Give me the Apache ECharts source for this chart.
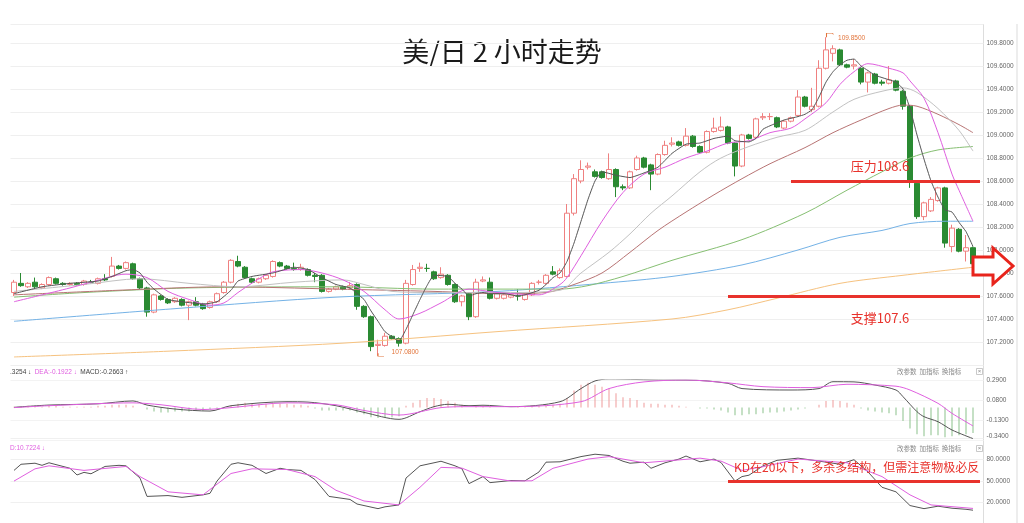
<!DOCTYPE html>
<html><head><meta charset="utf-8">
<script src="https://cdn.jsdelivr.net/npm/echarts@6/dist/echarts.min.js"></script>
<style>html,body{margin:0;padding:0;background:#fff}#c{width:1024px;height:523px}</style>
</head><body><div id="c"></div>
<script>
// ---- candle data (USD/JPY, 2-hour) ----
const opens=[107.63,107.71,107.68,107.72,107.67,107.70,107.75,107.71,107.70,107.71,
107.70,107.72,107.71,107.75,107.77,107.86,107.84,107.88,107.75,107.67,
107.46,107.60,107.57,107.55,107.57,107.52,107.55,107.53,107.50,107.55,
107.63,107.72,107.90,107.85,107.75,107.72,107.75,107.77,107.89,107.86,
107.84,107.83,107.83,107.78,107.78,107.64,107.66,107.68,107.67,107.70,
107.51,107.42,107.17,107.17,107.25,107.23,107.19,107.70,107.84,107.84,
107.81,107.76,107.78,107.70,107.55,107.62,107.42,107.73,107.72,107.58,
107.58,107.59,107.60,107.57,107.61,107.72,107.71,107.81,107.76,107.77,
108.32,108.60,108.72,108.68,108.68,108.62,108.70,108.55,108.54,108.70,
108.80,108.74,108.66,108.83,108.92,108.94,108.91,108.99,108.90,108.85,
109.03,109.04,109.07,108.93,108.73,109.00,108.98,109.15,109.16,109.15,
109.06,109.12,109.17,109.33,109.22,109.25,109.58,109.71,109.74,109.61,
109.60,109.58,109.46,109.53,109.46,109.45,109.47,109.38,109.25,108.58,
108.29,108.34,108.43,108.54,108.03,108.18,107.99,108.02];
const closes=[107.72,107.69,107.71,107.68,107.70,107.76,107.71,107.70,107.71,107.70,
107.73,107.72,107.75,107.74,107.86,107.84,107.89,107.75,107.67,107.46,
107.61,107.57,107.54,107.58,107.52,107.55,107.52,107.49,107.55,107.62,
107.72,107.91,107.86,107.76,107.72,107.75,107.78,107.90,107.86,107.84,
107.83,107.85,107.78,107.77,107.64,107.66,107.68,107.66,107.69,107.51,
107.42,107.16,107.18,107.25,107.23,107.19,107.71,107.83,107.85,107.84,
107.75,107.79,107.70,107.55,107.60,107.42,107.72,107.74,107.58,107.62,
107.61,107.61,107.60,107.61,107.71,107.72,107.78,107.79,107.82,108.32,
108.62,108.70,108.73,108.64,108.63,108.70,108.55,108.54,108.68,108.80,
108.72,108.66,108.83,108.91,108.93,108.91,108.99,108.90,108.85,109.03,
109.06,109.07,108.93,108.73,109.00,108.97,109.14,109.16,109.16,109.07,
109.12,109.15,109.33,109.25,109.25,109.58,109.74,109.75,109.61,109.59,
109.61,109.46,109.54,109.45,109.45,109.48,109.39,109.25,108.60,108.29,
108.41,108.44,108.54,108.06,108.19,107.99,108.02,107.88];
const lows=[107.60,107.68,107.67,107.67,107.66,107.69,107.70,107.69,107.69,107.69,
107.69,107.71,107.70,107.73,107.76,107.83,107.83,107.74,107.66,107.42,
107.45,107.56,107.53,107.54,107.51,107.39,107.51,107.48,107.49,107.54,
107.62,107.71,107.85,107.75,107.71,107.71,107.74,107.76,107.85,107.83,
107.82,107.82,107.77,107.72,107.63,107.63,107.65,107.65,107.66,107.48,
107.41,107.12,107.08,107.16,107.22,107.16,107.18,107.69,107.81,107.81,
107.74,107.75,107.69,107.54,107.51,107.39,107.41,107.72,107.57,107.57,
107.57,107.58,107.56,107.56,107.60,107.70,107.70,107.78,107.75,107.76,
108.30,108.58,108.70,108.63,108.62,108.61,108.46,108.52,108.53,108.69,
108.71,108.52,108.65,108.82,108.90,108.90,108.90,108.89,108.84,108.84,
109.02,109.03,108.92,108.64,108.72,108.96,108.97,109.13,109.13,109.06,
109.05,109.11,109.16,109.24,109.20,109.24,109.57,109.64,109.60,109.58,
109.57,109.44,109.37,109.44,109.43,109.44,109.38,109.22,108.54,108.27,
108.26,108.33,108.42,108.02,107.98,107.98,107.90,107.86];
const highs=[107.74,107.80,107.72,107.76,107.71,107.77,107.76,107.72,107.72,107.72,
107.74,107.74,107.76,107.79,107.94,107.87,107.90,107.89,107.76,107.68,
107.62,107.61,107.58,107.59,107.58,107.56,107.59,107.54,107.56,107.63,
107.73,107.92,107.95,107.86,107.76,107.76,107.79,107.91,107.90,107.87,
107.89,107.88,107.84,107.80,107.79,107.67,107.69,107.69,107.72,107.71,
107.52,107.43,107.22,107.28,107.26,107.24,107.74,107.87,107.89,107.88,
107.82,107.85,107.79,107.71,107.61,107.63,107.75,107.77,107.76,107.63,
107.62,107.62,107.66,107.62,107.72,107.74,107.79,107.86,107.84,108.40,
108.66,108.78,108.76,108.70,108.69,108.84,108.71,108.57,108.69,108.82,
108.81,108.75,108.84,108.95,108.98,108.95,109.06,109.00,108.91,109.04,
109.15,109.16,109.08,108.94,109.01,109.01,109.15,109.19,109.19,109.16,
109.13,109.16,109.39,109.34,109.41,109.65,109.85,109.78,109.75,109.62,
109.66,109.59,109.55,109.54,109.48,109.60,109.48,109.39,109.26,108.59,
108.42,108.46,108.55,108.55,108.22,108.19,108.13,108.03];

// ---- moving averages: [candle index, value] ----
const ma5=[[0,107.62],[4,107.68],[8,107.71],[12,107.73],[14,107.77],[16,107.82],[17,107.83],[18,107.80],[19,107.72],[20,107.66],[22,107.57],[24,107.55],[27,107.53],[29,107.55],[31,107.65],[32,107.73],[34,107.77],[37,107.80],[40,107.85],[42,107.83],[44,107.76],[46,107.70],[48,107.67],[49,107.62],[50,107.57],[51,107.47],[52,107.38],[53,107.29],[55,107.21],[56,107.31],[57,107.44],[58,107.57],[59,107.69],[60,107.78],[62,107.77],[63,107.71],[64,107.66],[65,107.60],[66,107.62],[67,107.63],[68,107.62],[70,107.62],[72,107.60],[73,107.61],[75,107.65],[76,107.70],[77,107.76],[78,107.80],[79,107.90],[80,108.06],[81,108.25],[82,108.44],[83,108.60],[84,108.68],[86,108.65],[88,108.63],[90,108.67],[92,108.72],[94,108.84],[96,108.92],[98,108.93],[100,108.97],[102,108.99],[103,108.95],[105,108.94],[106,108.97],[107,109.05],[108,109.08],[110,109.13],[112,109.16],[113,109.18],[114,109.22],[115,109.33],[116,109.46],[117,109.55],[118,109.61],[119,109.65],[120,109.66],[121,109.60],[122,109.56],[123,109.52],[125,109.48],[126,109.46],[127,109.40],[128,109.23],[129,109.00],[130,108.79],[131,108.60],[132,108.46],[133,108.35],[134,108.33],[135,108.24],[136,108.16],[137,108.03]];
const ma10=[[0,107.55],[8,107.67],[11,107.72],[16,107.79],[19,107.76],[22,107.64],[25,107.57],[28,107.52],[30,107.54],[32,107.63],[35,107.75],[37,107.81],[41,107.83],[44,107.80],[47,107.74],[50,107.64],[53,107.48],[55,107.40],[58,107.45],[61,107.54],[65,107.66],[69,107.63],[75,107.61],[78,107.70],[79,107.76],[81,107.95],[84,108.25],[87,108.50],[90,108.66],[93,108.72],[96,108.80],[99,108.86],[102,108.93],[105,108.95],[108,109.02],[111,109.06],[113,109.14],[116,109.28],[118,109.44],[120,109.55],[122,109.62],[125,109.58],[127,109.54],[128,109.47],[130,109.32],[132,109.02],[134,108.66],[135,108.52],[137,108.25]];
const ma20=[[0,107.64],[10,107.70],[18,107.75],[25,107.71],[32,107.68],[40,107.72],[47,107.74],[50,107.70],[54,107.64],[60,107.63],[70,107.63],[78,107.65],[81,107.80],[85,107.98],[88,108.14],[91,108.32],[94,108.47],[98,108.68],[101,108.80],[105,108.90],[109,108.98],[113,109.04],[117,109.20],[120,109.31],[124,109.38],[127,109.41],[129,109.37],[132,109.23],[135,109.04],[137,108.86]];
const ma30=[[0,107.61],[15,107.65],[30,107.68],[46,107.66],[60,107.64],[70,107.62],[76,107.63],[80,107.70],[84,107.80],[88,107.98],[92,108.17],[96,108.33],[100,108.48],[104,108.62],[108,108.75],[113,108.89],[117,109.02],[121,109.13],[125,109.23],[127,109.26],[129,109.25],[132,109.18],[135,109.09],[137,109.02]];
const ma60=[[0,107.59],[10,107.63],[25,107.67],[46,107.68],[60,107.66],[78,107.66],[82,107.69],[87,107.77],[94,107.91],[104,108.09],[113,108.32],[119,108.52],[124,108.68],[128,108.80],[132,108.87],[137,108.90]];
const ma120=[[0,107.38],[23,107.49],[46,107.59],[69,107.64],[84,107.71],[94,107.77],[104,107.87],[112,108.00],[118,108.11],[124,108.17],[128,108.23],[133,108.25],[137,108.25]];
const ma250=[[0,107.07],[22,107.12],[47,107.19],[69,107.29],[94,107.40],[102,107.48],[109,107.58],[118,107.71],[127,107.78],[137,107.85]];

// ---- MACD ----
const macdHist=[0.01,0.01,0.02,0.01,0.01,0.02,0.02,0.01,0.01,0.01,
0.01,0.01,0.02,0.02,0.03,0.03,0.03,0.02,0.0,-0.02,
-0.04,-0.05,-0.05,-0.04,-0.04,-0.04,-0.03,-0.03,-0.02,-0.01,
0.0,0.02,0.04,0.05,0.04,0.04,0.04,0.05,0.04,0.04,
0.03,0.03,0.02,-0.01,-0.03,-0.03,-0.03,-0.03,-0.03,-0.05,
-0.07,-0.10,-0.11,-0.10,-0.10,-0.09,0.02,0.05,0.08,0.10,
0.10,0.09,0.07,0.05,0.03,0.0,0.02,0.02,0.01,0.0,
0.0,0.0,0.01,0.01,0.02,0.02,0.02,0.03,0.04,0.10,
0.18,0.24,0.26,0.24,0.22,0.20,0.15,0.11,0.10,0.08,
0.05,0.04,0.04,0.03,0.03,0.02,0.01,0.0,-0.01,-0.01,
-0.02,-0.03,-0.05,-0.08,-0.08,-0.07,-0.07,-0.06,-0.05,-0.05,
-0.04,-0.03,-0.02,-0.01,0.0,0.03,0.07,0.08,0.07,0.05,
0.03,-0.01,-0.03,-0.04,-0.05,-0.06,-0.08,-0.14,-0.22,-0.28,
-0.30,-0.29,-0.29,-0.31,-0.30,-0.29,-0.28,-0.2663];
const dif=[[0,0.003],[5,0.027],[12,0.04],[17,0.07],[19,0.027],[23,-0.015],[28,-0.036],[31,0.02],[39,0.062],[42,0.058],[46,0.02],[50,-0.05],[55,-0.123],[58,-0.043],[60,0.01],[62,0.035],[65,0.02],[67,0.025],[71,0.01],[78,0.062],[81,0.20],[83,0.28],[85,0.30],[89,0.295],[93,0.29],[96,0.29],[102,0.255],[104,0.20],[111,0.185],[115,0.20],[117,0.272],[120,0.27],[123,0.237],[126,0.185],[127,0.115],[129,-0.043],[130,-0.095],[132,-0.148],[134,-0.235],[137,-0.3254]];
const dea=[[0,0.0],[5,0.02],[17,0.05],[21,0.03],[27,-0.02],[31,0.0],[39,0.05],[46,0.03],[50,-0.03],[55,-0.078],[61,0.0],[65,0.01],[71,0.01],[81,0.062],[85,0.20],[90,0.27],[96,0.29],[102,0.26],[107,0.22],[114,0.21],[119,0.245],[126,0.225],[128,0.185],[132,0.045],[134,-0.06],[137,-0.1922]];

// ---- KD ----
const kLine=[[0,64.8],[1,73.5],[3,75],[4,72],[5,75.6],[8,67.8],[9,58.3],[10,62],[11,60],[13,70.4],[15,72],[16,71.3],[18,53.9],[19,27.8],[22,29],[24,26.5],[27,30],[28,32.2],[29,49.6],[31,73.5],[32,75.6],[34,72],[36,60.4],[38,67.8],[39,66],[41,64.8],[43,51.8],[45,27.8],[48,23.5],[49,17],[52,10.4],[53,13],[55,15.7],[56,53.9],[58,71.3],[60,75.6],[61,77.8],[63,71.3],[64,67],[65,46],[67,56],[68,47.4],[71,50.4],[73,50],[75,62.6],[76,76.5],[78,77],[81,84.4],[83,87.8],[85,86],[87,77.8],[88,75],[90,76.5],[91,67.8],[93,75.6],[95,80.9],[96,85.2],[98,77],[100,80.9],[101,76],[103,49.6],[104,56],[105,58],[107,71.3],[109,79.1],[112,82.2],[115,78],[118,73.5],[120,80],[122,62.6],[124,40.8],[126,34.3],[128,14.8],[130,10.4],[132,13.9],[134,11],[136,9.5],[137,8.2]];
const dLine=[[0,49.6],[3,67],[5,71.3],[10,64.8],[16,70.4],[18,56],[22,34.3],[27,30],[31,60.4],[34,67],[39,66],[43,56],[46,36.5],[50,21.3],[55,15.7],[58,40.8],[61,69.1],[64,68],[67,56],[71,49.6],[74,50],[77,67.8],[82,80.9],[85,84.4],[90,75.6],[98,82.2],[101,78],[104,64.8],[107,70],[112,80.9],[119,75.6],[124,56],[128,30],[131,15.7],[137,10.7224]];

// ---- annotation levels ----
const resistance=108.6, support=107.6, kdLevel=50;
const resistStart=111, supportStart=102, kdStart=102;

const N=opens.length;
const categories=opens.map((_,i)=>String(i+1)).concat(['']);
const endIdx=categories.length-1;
const candles=opens.map((o,i)=>[o,closes[i],lows[i],highs[i]]);

const RED='#e8322c', MAG='#df5fdf', DARK='#555555', PIN='#e2743a';
const numFont='Liberation Sans';
const cjk='"Noto Sans CJK SC"';

function lineS(name,data,color,xi,yi,smooth,extra){
  return Object.assign({name,type:'line',data,xAxisIndex:xi,yAxisIndex:yi,showSymbol:false,symbol:'none',
    smooth:smooth,lineStyle:{color:color,width:1},itemStyle:{color:color},z:3,silent:true},extra||{});
}
const xAx=i=>({type:'category',gridIndex:i,data:categories,show:false,boundaryGap:true});
const yLab={color:'#666',fontSize:6.5,fontFamily:numFont,margin:3,formatter:v=>Number(v).toFixed(4)};

const chart=echarts.init(document.getElementById('c'),null,{renderer:'canvas'});
const last=N-1;
chart.setOption({
  animation:false,
  backgroundColor:'#ffffff',
  grid:[
    {left:10.5,right:40.5,top:24,height:341},
    {left:10.5,right:40.5,top:380,height:60},
    {left:10.5,right:40.5,top:438.6,height:92}
  ],
  xAxis:[xAx(0),xAx(1),xAx(2)],
  yAxis:[
    {gridIndex:0,position:'right',min:107,max:109.965,interval:0.2,scale:true,
     axisLine:{show:false},axisTick:{show:false},
     axisLabel:Object.assign({showMinLabel:false,showMaxLabel:false},yLab),
     splitLine:{lineStyle:{color:'#efefef'}}},
    {gridIndex:1,position:'right',min:-0.34,max:0.29,interval:0.21,
     axisLine:{show:false},axisTick:{show:false},
     axisLabel:Object.assign({verticalAlignMinLabel:'bottom'},yLab),
     splitLine:{lineStyle:{color:'#f3f3f3'}}},
    {gridIndex:2,position:'right',min:-10,max:110,interval:30,
     axisLine:{show:false},axisTick:{show:false},
     axisLabel:Object.assign({showMinLabel:false,showMaxLabel:false},yLab),
     splitLine:{lineStyle:{color:'#f0f0f0'}}}
  ],
  series:[
    {type:'candlestick',data:candles,xAxisIndex:0,yAxisIndex:0,barWidth:5,z:2,
     itemStyle:{color:'#ffffff',color0:'#2a8a32',borderColor:'#ef8080',borderColor0:'#2a8a32',borderWidth:1},
     markPoint:{silent:true,symbolKeepAspect:false,
       label:{show:true,position:'right',distance:4,color:PIN,fontSize:6.5,fontFamily:numFont,
              formatter:p=>Number(p.value).toFixed(4)},
       data:[{type:'max',valueDim:'highest',symbol:'path://M0,10L0,0L10,0L12,3',symbolSize:[7,4],symbolOffset:[4,-2],
              itemStyle:{color:'rgba(0,0,0,0)',borderColor:PIN,borderWidth:0.8},label:{offset:[0,3]}},
             {type:'min',valueDim:'lowest',symbol:'path://M0,0L0,10L10,10',symbolSize:[6,3],symbolOffset:[3,-1],
              itemStyle:{color:'rgba(0,0,0,0)',borderColor:PIN,borderWidth:0.8},label:{offset:[3,-3]}}]},
     markLine:{symbol:'none',silent:true,animation:false,label:{show:false},
       lineStyle:{color:RED,width:3,type:'solid'},
       data:[[{coord:[resistStart,resistance]},{coord:[endIdx,resistance]}],
             [{coord:[supportStart,support]},{coord:[endIdx,support]}]]}},
    lineS('MA250',ma250,'#f6c27f',0,0,0.3),
    lineS('MA120',ma120,'#74b2e6',0,0,0.3),
    lineS('MA60',ma60,'#86bf72',0,0,0.3),
    lineS('MA30',ma30,'#b87474',0,0,0.3),
    lineS('MA20',ma20,'#c2c2c2',0,0,0.3),
    lineS('MA10',ma10,MAG,0,0,0.3),
    lineS('MA5',ma5,DARK,0,0,0.15),
    {type:'bar',data:macdHist,xAxisIndex:1,yAxisIndex:1,barWidth:1,silent:true,
     itemStyle:{color:p=>p.value>=0?'#f09c9c':'#8cc28c'}},
    lineS('DIF',dif,DARK,1,1,0.3),
    lineS('DEA',dea,MAG,1,1,0.3),
    lineS('K',kLine,DARK,2,2,false,{
      markLine:{symbol:'none',silent:true,animation:false,label:{show:false},
        lineStyle:{color:RED,width:3,type:'solid'},
        data:[[{coord:[kdStart,kdLevel]},{coord:[endIdx,kdLevel]}]]}}),
    lineS('D',dLine,MAG,2,2,false)
  ],
  graphic:[
    {type:'line',silent:true,shape:{x1:983.5,y1:24,x2:983.5,y2:523},style:{stroke:'#dddddd',lineWidth:1}},
    {type:'line',silent:true,shape:{x1:1017,y1:24,x2:1017,y2:523},style:{stroke:'#ededed',lineWidth:2}},
    {type:'text',silent:true,x:502,y:52,style:{text:'美/日 2 小时走势',fontSize:27,fontFamily:cjk,fill:'#1a1a1a',align:'center',verticalAlign:'middle'}},
    {type:'text',silent:true,zlevel:1,x:880,y:166,style:{text:'压力108.6',fontSize:13,fontFamily:cjk,fill:RED,align:'center',verticalAlign:'middle'}},
    {type:'text',silent:true,zlevel:1,x:880,y:318,style:{text:'支撑107.6',fontSize:13,fontFamily:cjk,fill:RED,align:'center',verticalAlign:'middle'}},
    {type:'text',silent:true,zlevel:1,x:734,y:467,style:{text:'KD在20以下，多杀多结构，但需注意物极必反',fontSize:12,fontFamily:cjk,fill:RED,align:'left',verticalAlign:'middle'}},
    {type:'polygon',silent:true,zlevel:1,shape:{points:[[973,257],[993,257],[993,248],[1013,266],[993,284],[993,275],[973,275]]},
     style:{fill:'#ffffff',stroke:'#e8241c',lineWidth:3}},
    {type:'text',silent:true,x:10,y:372,style:{
      text:'{a|.3254 ↓} {b|DEA:'+dea[dea.length-1][1].toFixed(4)+' ↓} {a|MACD:'+macdHist[last].toFixed(4)+' ↑}',
      verticalAlign:'middle',
      rich:{a:{fill:'#444',color:'#444',fontSize:6.5,fontFamily:numFont},b:{fill:MAG,color:MAG,fontSize:6.5,fontFamily:numFont}}}},
    {type:'text',silent:true,x:10,y:448,style:{text:'D:'+dLine[dLine.length-1][1].toFixed(4)+' ↓',fontSize:6.5,fontFamily:numFont,fill:MAG,verticalAlign:'middle'}},
    {type:'text',silent:true,x:897,y:372,style:{text:'改参数  加指标  换指标',fontSize:6.5,fontFamily:cjk,fill:'#888',verticalAlign:'middle'}},
    {type:'rect',silent:true,shape:{x:976.5,y:368.5,width:6,height:6},style:{fill:'#fff',stroke:'#bbb',lineWidth:0.8}},
    {type:'text',silent:true,x:979.5,y:371.5,style:{text:'×',fontSize:6,fill:'#888',align:'center',verticalAlign:'middle'}},
    {type:'text',silent:true,x:897,y:448.5,style:{text:'改参数  加指标  换指标',fontSize:6.5,fontFamily:cjk,fill:'#888',verticalAlign:'middle'}},
    {type:'rect',silent:true,shape:{x:976.5,y:445.5,width:6,height:6},style:{fill:'#fff',stroke:'#bbb',lineWidth:0.8}},
    {type:'text',silent:true,x:979.5,y:448.5,style:{text:'×',fontSize:6,fill:'#888',align:'center',verticalAlign:'middle'}}
  ]
});
</script></body></html>
